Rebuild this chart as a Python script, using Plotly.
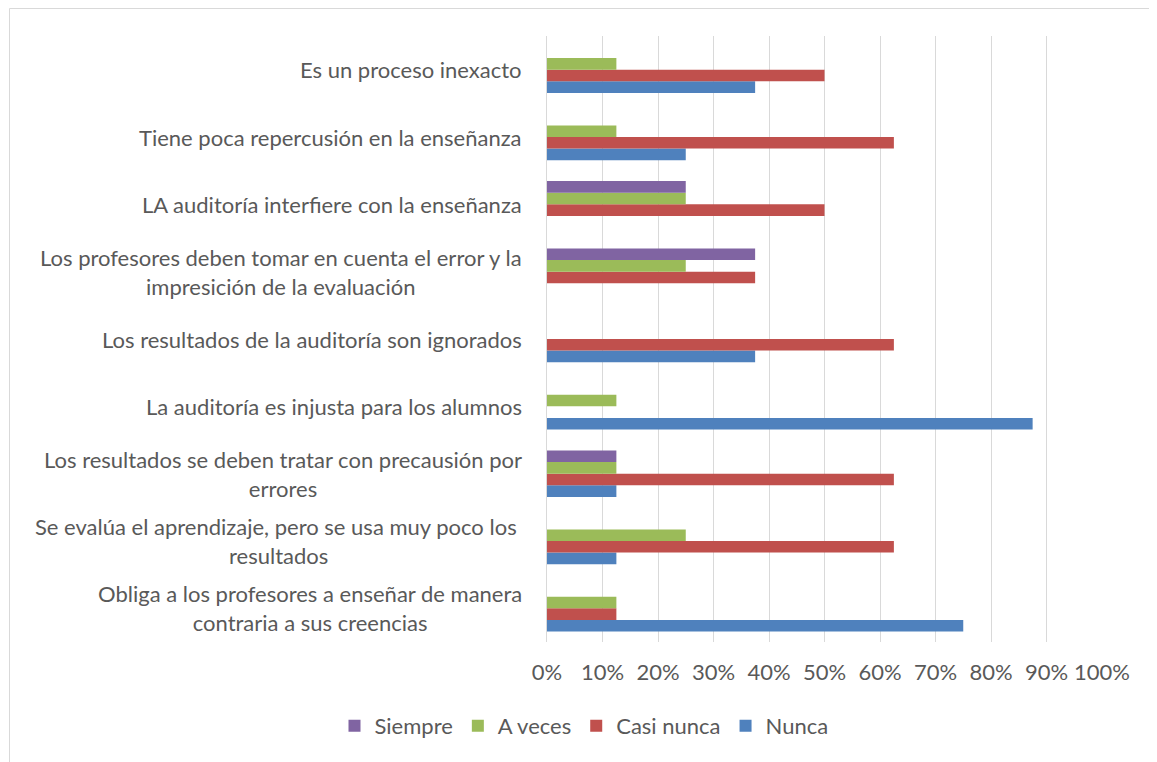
import plotly.graph_objects as go

categories = [
    "Obliga a los profesores a enseñar de manera<br>contraria a sus creencias",
    "Se evalúa el aprendizaje, pero se usa muy poco los\u00a0<br>resultados",
    "Los resultados se deben tratar con precausión por<br>errores",
    "La auditoría es injusta para los alumnos",
    "Los resultados de la auditoría son ignorados",
    "Los profesores deben tomar en cuenta el error y la<br>impresición de la evaluación",
    "LA auditoría interfiere con la enseñanza",
    "Tiene poca repercusión en la enseñanza",
    "Es un proceso inexacto",
]
nunca = [0.75, 0.125, 0.125, 0.875, 0.375, 0.0, 0.0, 0.25, 0.375]
casi_nunca = [0.125, 0.625, 0.625, 0.0, 0.625, 0.375, 0.5, 0.625, 0.5]
a_veces = [0.125, 0.25, 0.125, 0.125, 0.0, 0.25, 0.25, 0.125, 0.125]
siempre = [0.0, 0.0, 0.125, 0.0, 0.0, 0.375, 0.25, 0.0, 0.0]

series = [
    ("Nunca", nunca, "#4F81BD"),
    ("Casi nunca", casi_nunca, "#C0504D"),
    ("A veces", a_veces, "#9BBB59"),
    ("Siempre", siempre, "#8064A2"),
]

FONT = "Lato"
TXT = "#595959"
FS = 22

fig = go.Figure()
for name, vals, col in series:
    fig.add_trace(go.Bar(
        y=categories, x=vals, name=name, orientation="h",
        marker=dict(color=col, line=dict(width=0)),
    ))

OFF = 8  # page body margin
W, H = 1157 - OFF, 762 - OFF
L, R, T, B = 547 - OFF, 1102 - OFF, 36 - OFF, 642 - OFF

def px(xp):
    return (xp - OFF - L) / (R - L)

def py(yp):
    return (B - (yp - OFF)) / (B - T)

annotations = []
for c in categories:
    annotations.append(dict(
        x=px(524), xref="paper", y=c, yref="y", text=c, showarrow=False,
        xanchor="right", yanchor="middle", align="center",
        font=dict(family=FONT, size=FS, color=TXT),
    ))

fig.update_layout(
    width=W, height=H,
    margin=dict(l=L, r=W - R, t=T, b=H - B, pad=0),
    paper_bgcolor="white", plot_bgcolor="white",
    barmode="group", bargap=0.31, bargroupgap=0,
    font=dict(family=FONT, size=FS, color=TXT),
    legend=dict(
        orientation="h", traceorder="reversed",
        x=px(584), xanchor="center", y=py(726), yanchor="middle",
        font=dict(family=FONT, size=FS, color=TXT),
        itemwidth=30,
    ),
    annotations=annotations,
    shapes=[dict(
        type="rect", xref="paper", yref="paper",
        x0=px(9.5), x1=px(1155.5), y0=py(775), y1=py(8.5),
        line=dict(color="#d9d9d9", width=1), fillcolor="rgba(0,0,0,0)",
        layer="below",
    )],
    xaxis=dict(
        range=[0, 1], dtick=0.1, tick0=0, tickformat=".0%",
        showgrid=True, gridcolor="#d9d9d9", gridwidth=1,
        zeroline=False, showline=False, ticks="",
        ticklabelstandoff=15,
        tickfont=dict(family=FONT, size=FS, color=TXT),
    ),
    yaxis=dict(
        categoryorder="array", categoryarray=categories,
        showticklabels=False, showgrid=False, zeroline=False,
        showline=True, linecolor="#d9d9d9", linewidth=1, ticks="",
    ),
)

fig.write_html("out.html")
